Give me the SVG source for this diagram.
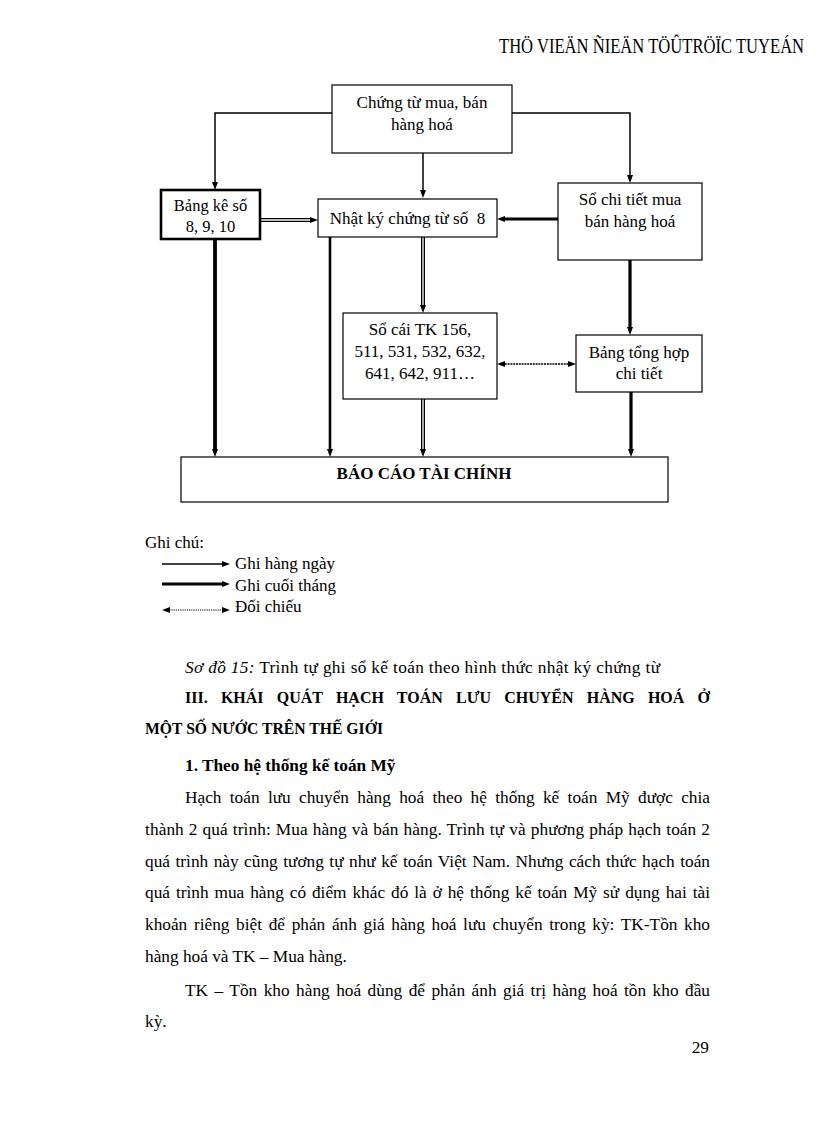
<svg xmlns="http://www.w3.org/2000/svg" width="816" height="1123" viewBox="0 0 816 1123">
<defs>
<style>
text{font-family:"Liberation Serif","Times New Roman",serif;fill:#000}
.n{font-size:17px;text-anchor:middle}
.b{fill:#fff;stroke:#000;stroke-width:1.2}
.thin{fill:none;stroke:#000;stroke-width:1.5}
.thick{fill:none;stroke:#000;stroke-width:3.2}
.dbl{fill:none;stroke:#000;stroke-width:4}
.dblw{fill:none;stroke:#fff;stroke-width:1.3}
.dot{fill:none;stroke:#000;stroke-width:1.4;stroke-dasharray:2 0.8}
.body{font-size:17.3px}
.bold{font-weight:bold}
.lg{font-size:17px}
</style>
<marker id="ah" viewBox="0 0 8 6" refX="3" refY="3" markerWidth="8" markerHeight="6" markerUnits="userSpaceOnUse" orient="auto-start-reverse">
<path d="M0,0 L8,3 L0,6 z" fill="#000"/>
</marker>
</defs>
<rect width="816" height="1123" fill="#fff"/>

<text transform="translate(499,53) scale(1,1.2)" x="0" y="0" font-size="16.6">THÖ VIEÄN ÑIEÄN TÖÛTRÖÏC TUYEÁN</text>

<g id="connectors">
<path class="thin" d="M332,113 H215 V185" marker-end="url(#ah)"/>
<path class="thin" d="M512,113 H630 V178" marker-end="url(#ah)"/>
<path class="thin" d="M423,153 V193" marker-end="url(#ah)"/>
<path class="dbl" d="M260,220 H313" marker-end="url(#ah)"/>
<path class="dblw" d="M260,220 H310"/>
<path class="thick" d="M558,219 H502" marker-end="url(#ah)"/>
<path class="thick" d="M215,239 V452" style="stroke-width:3.8" marker-end="url(#ah)"/>
<path class="thick" d="M330,237 V452" style="stroke-width:2.6" marker-end="url(#ah)"/>
<path class="dbl" d="M423,237 V308" marker-end="url(#ah)"/>
<path class="dblw" d="M423,237 V305"/>
<path class="thick" d="M630,260 V330" marker-end="url(#ah)"/>
<path class="dot" d="M502,364 H571" marker-start="url(#ah)" marker-end="url(#ah)"/>
<path class="dbl" d="M423,399 V452" marker-end="url(#ah)"/>
<path class="dblw" d="M423,399 V449"/>
<path class="thick" d="M631,392 V452" marker-end="url(#ah)"/>
</g>

<g id="n-chungtu">
<rect class="b" x="332" y="85" width="180" height="68"/>
<text class="n" x="422" y="108">Chứng từ mua, bán</text>
<text class="n" x="422" y="130">hàng hoá</text>
</g>
<g id="n-bangke">
<rect class="b" x="161" y="190" width="99" height="49" style="stroke-width:2.6"/>
<text class="n" x="210.5" y="211" style="font-size:16.5px">Bảng kê số</text>
<text class="n" x="210.5" y="232" style="font-size:16.5px">8, 9, 10</text>
</g>
<g id="n-nhatky">
<rect class="b" x="318" y="199" width="179" height="38"/>
<text class="n" x="407.5" y="224" xml:space="preserve">Nhật ký chứng từ số  8</text>
</g>
<g id="n-sochitiet">
<rect class="b" x="558" y="183" width="144" height="77"/>
<text class="n" x="630" y="205">Sổ chi tiết mua</text>
<text class="n" x="630" y="227">bán hàng hoá</text>
</g>
<g id="n-socai">
<rect class="b" x="343" y="313" width="154" height="86"/>
<text class="n" x="420" y="335">Sổ cái TK 156,</text>
<text class="n" x="420" y="357">511, 531, 532, 632,</text>
<text class="n" x="420" y="379">641, 642, 911…</text>
</g>
<g id="n-tonghop">
<rect class="b" x="576" y="335" width="126" height="57"/>
<text class="n" x="639" y="358">Bảng tổng hợp</text>
<text class="n" x="639" y="379">chi tiết</text>
</g>
<g id="n-baocao">
<rect class="b" x="181" y="457" width="487" height="45"/>
<text class="n bold" x="424" y="479" style="font-size:17px">BÁO CÁO TÀI CHÍNH</text>
</g>

<g id="legend">
<text class="lg" x="145" y="548">Ghi chú:</text>
<path class="thin" d="M162,564 H225" marker-end="url(#ah)"/>
<text class="lg" x="235" y="569">Ghi hàng ngày</text>
<path class="thick" d="M162,584 H225" marker-end="url(#ah)"/>
<text class="lg" x="235" y="591">Ghi cuối tháng</text>
<path class="dot" d="M167,610 H225" style="stroke-width:1.1;stroke-dasharray:1.2 1" marker-start="url(#ah)" marker-end="url(#ah)"/>
<text class="lg" x="235" y="612">Đối chiếu</text>
</g>

<g id="body">
<text class="body" x="185" y="673" textLength="475" lengthAdjust="spacing"><tspan font-style="italic">Sơ đồ 15:</tspan> Trình tự ghi sổ kế toán theo hình thức nhật ký chứng từ</text>
<text class="body bold" x="185" y="703" word-spacing="10" textLength="525" lengthAdjust="spacingAndGlyphs">III. KHÁI QUÁT HẠCH TOÁN LƯU CHUYỂN HÀNG HOÁ Ở</text>
<text class="body bold" x="145" y="734" textLength="238" lengthAdjust="spacingAndGlyphs">MỘT SỐ NƯỚC TRÊN THẾ GIỚI</text>
<text class="body bold" x="185" y="771">1. Theo hệ thống kế toán Mỹ</text>
<text class="body" x="185" y="803" word-spacing="4" textLength="525" lengthAdjust="spacing">Hạch toán lưu chuyển hàng hoá theo hệ thống kế toán Mỹ được chia</text>
<text class="body" x="145" y="835" word-spacing="0.6" textLength="565" lengthAdjust="spacing">thành 2 quá trình: Mua hàng và bán hàng. Trình tự và phương pháp hạch toán 2</text>
<text class="body" x="145" y="867" word-spacing="1.1" textLength="565" lengthAdjust="spacing">quá trình này cũng tương tự như kế toán Việt Nam. Nhưng cách thức hạch toán</text>
<text class="body" x="145" y="898" word-spacing="1.6" textLength="565" lengthAdjust="spacing">quá trình mua hàng có điểm khác đó là ở hệ thống kế toán Mỹ sử dụng hai tài</text>
<text class="body" x="145" y="930" word-spacing="2.3" textLength="565" lengthAdjust="spacing">khoản riêng biệt để phản ánh giá hàng hoá lưu chuyển trong kỳ: TK-Tồn kho</text>
<text class="body" x="145" y="962">hàng hoá và TK – Mua hàng.</text>
<text class="body" x="185" y="996" word-spacing="2.1" textLength="525" lengthAdjust="spacing">TK – Tồn kho hàng hoá dùng để phản ánh giá trị hàng hoá tồn kho đầu</text>
<text class="body" x="145" y="1027">kỳ.</text>
<text class="body" x="709" y="1053" text-anchor="end">29</text>
</g>
</svg>
